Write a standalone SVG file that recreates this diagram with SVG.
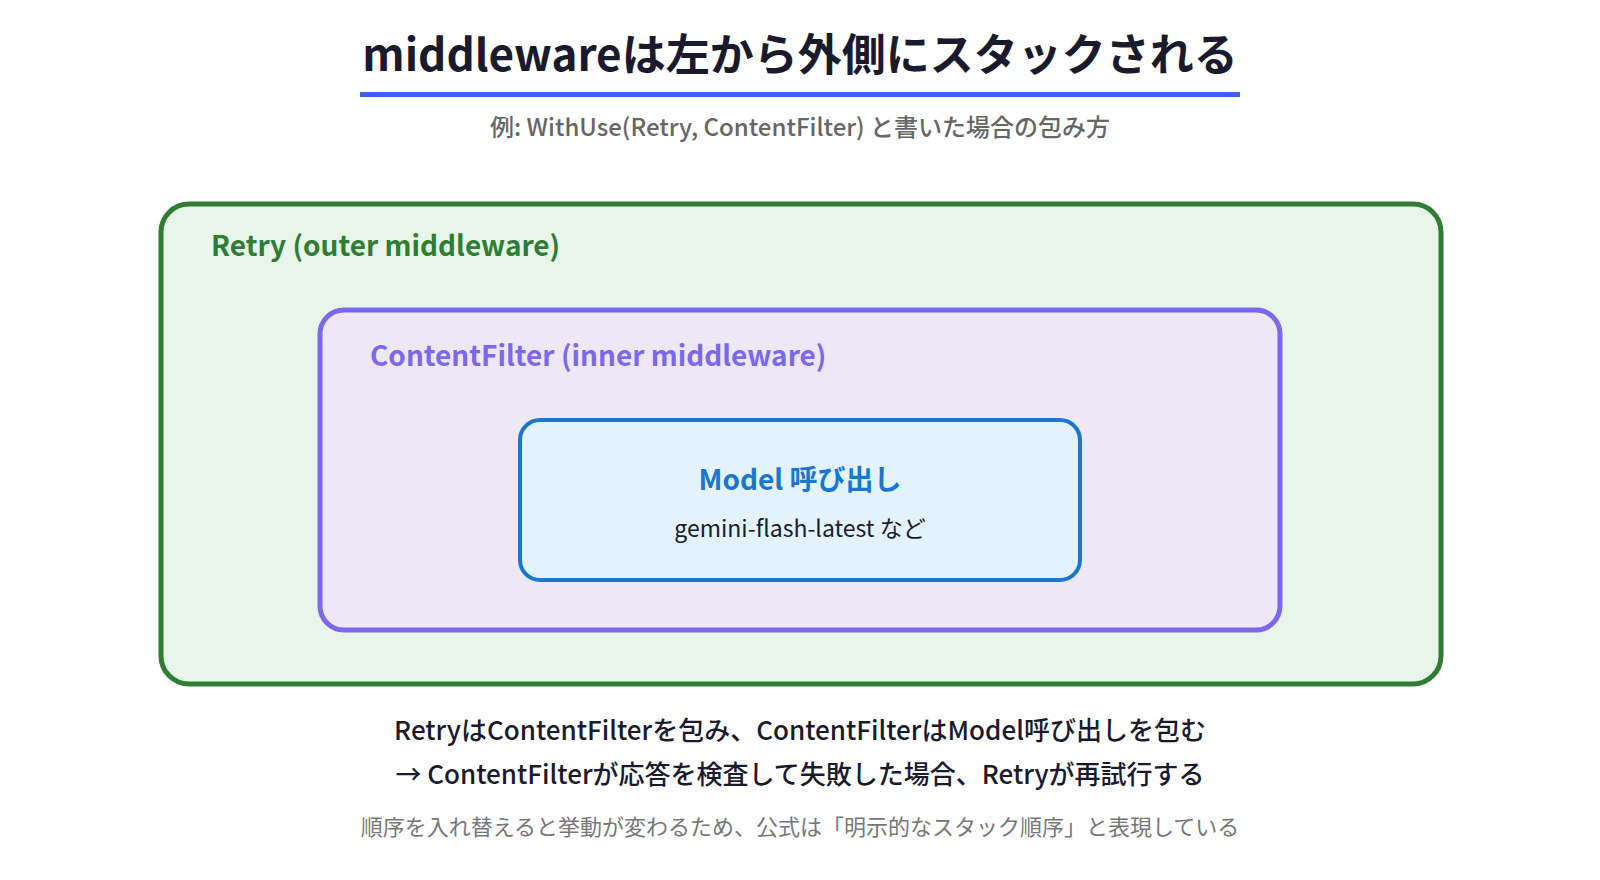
<svg xmlns="http://www.w3.org/2000/svg" width="1600" height="880" viewBox="0 0 1600 880">
<style>
text{font-family:"Noto Sans CJK JP","Noto Sans",sans-serif}
.title{font-size:44px;font-weight:700;fill:#1a1a2e}
.sub{font-size:24px;font-weight:500;fill:#666666}
.lbl{font-size:28px;font-weight:700}
.main{font-size:26px;font-weight:500;fill:#1a1a2e}
.note{font-size:22px;fill:#777777}
</style>
<rect width="1600" height="880" fill="#ffffff"/>
<g id="header">
<text class="title" x="800" y="71" text-anchor="middle">middlewareは左から外側にスタックされる</text>
<rect x="360" y="92" width="880" height="5" fill="#4361ee"/>
<text class="sub" x="800" y="136" text-anchor="middle">例: WithUse(Retry, ContentFilter) と書いた場合の包み方</text>
</g>
<g id="retry">
<rect x="161" y="204" width="1280" height="480" rx="28" fill="#e8f5e9" stroke="#2e7d32" stroke-width="5"/>
<text class="lbl" x="211" y="256" fill="#2e7d32">Retry (outer middleware)</text>
</g>
<g id="contentfilter">
<rect x="320" y="310" width="960" height="320" rx="24" fill="#ede7f6" stroke="#7b68ee" stroke-width="5"/>
<text class="lbl" x="370" y="366" fill="#7b68ee">ContentFilter (inner middleware)</text>
</g>
<g id="model">
<rect x="520" y="420" width="560" height="160" rx="20" fill="#e3f2fd" stroke="#1976d2" stroke-width="4"/>
<text class="lbl" x="800" y="490" text-anchor="middle" fill="#1976d2">Model 呼び出し</text>
<text x="800" y="537" text-anchor="middle" font-size="23" fill="#1a1a2e">gemini-flash-latest など</text>
</g>
<g id="connectors"></g>
<g id="footer">
<text class="main" x="800" y="740" text-anchor="middle">RetryはContentFilterを包み、ContentFilterはModel呼び出しを包む</text>
<text class="main" x="800" y="784" text-anchor="middle">→ ContentFilterが応答を検査して失敗した場合、Retryが再試行する</text>
<text class="note" x="800" y="835" text-anchor="middle">順序を入れ替えると挙動が変わるため、公式は「明示的なスタック順序」と表現している</text>
</g>
</svg>
